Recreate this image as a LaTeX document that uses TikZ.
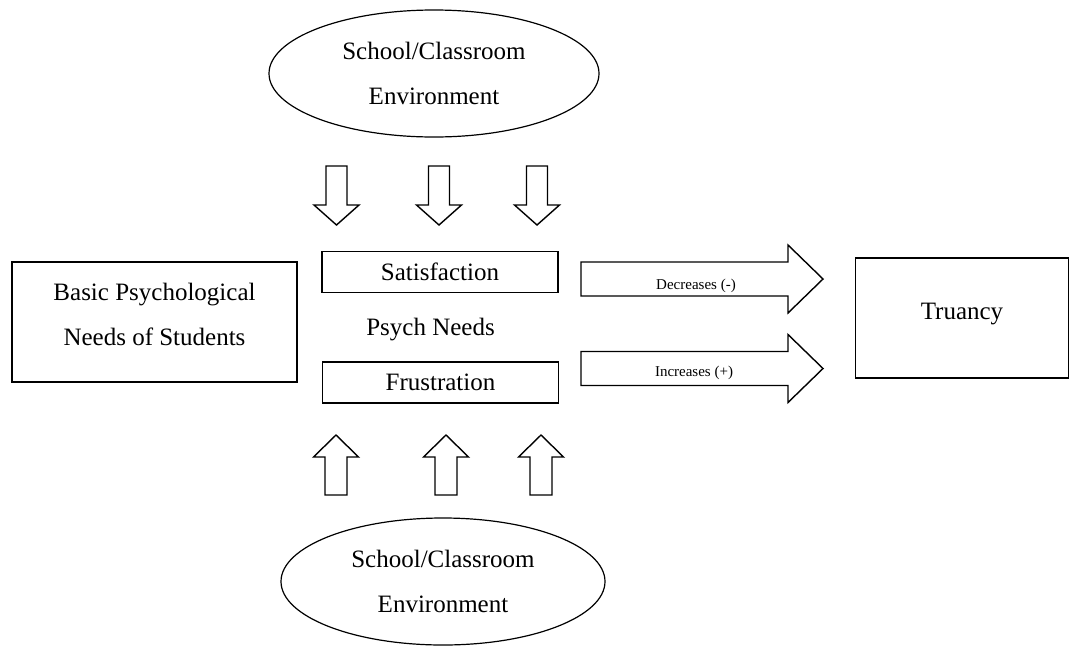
\documentclass[tikz,border=0pt]{standalone}
\usepackage{fontspec}
\setmainfont{Liberation Serif}
\usetikzlibrary{shapes.geometric}

\begin{document}
\begin{tikzpicture}[x=1pt,y=-1pt,line width=1.4pt,
                    big/.style={font=\fontsize{25}{45}\selectfont},
                    small/.style={font=\fontsize{15}{18}\selectfont},
                    arrdown/.pic={\draw (-10.5,0) -- (10.5,0) -- (10.5,39) -- (22.5,39)
                                   -- (0,59) -- (-22.5,39) -- (-10.5,39) -- cycle;},
                    arrup/.pic={\draw (0,0) -- (22.5,22) -- (11,22) -- (11,60)
                                 -- (-11,60) -- (-11,22) -- (-22.5,22) -- cycle;},
                    arrright/.pic={\draw (0,-17) -- (207,-17) -- (207,-34) -- (242,0)
                                    -- (207,34) -- (207,17) -- (0,17) -- cycle;}]
  \tikzstyle{env}=[draw,ellipse,big,align=center,line width=1.2pt,
                   minimum width=330pt,minimum height=127pt,inner sep=0pt]
  \tikzstyle{box}=[draw,big,align=center]
  \tikzstyle{need}=[box,minimum width=236pt,minimum height=41pt,inner sep=0pt]

  \useasboundingbox (0,0) rectangle (1075,646);

	\node[env]	(envtop)	at (434,73.5)	{School/Classroom\\Environment};
	\node[env,minimum width=324pt]	(envbot)	at (443,581.5)	{School/Classroom\\Environment};

	\node[box,minimum width=285pt,minimum height=120pt,text depth=16pt]
		(basic)	at (154.5,322)	{Basic Psychological\\Needs of Students};
	\node[box,minimum width=213pt,minimum height=120pt,text depth=14pt]
		(truancy)	at (962,318)	{Truancy};

	\node[need]	(sat)	at (440,272)	{Satisfaction};
	\node[big]	(psych)	at (430.5,329.5)	{Psych Needs};
	\node[need]	(frus)	at (440.5,382.5)	{Frustration};

	\foreach \x in {336.5,439,537}
		\pic at (\x,166) {arrdown};
	\foreach \x in {336,446,541}
		\pic at (\x,435) {arrup};

	\pic at (581,279) {arrright};
	\pic at (581,368.5) {arrright};
	\node[small]	(dec)	at (696,286)	{Decreases (-)};
	\node[small]	(inc)	at (694,373)	{Increases (+)};

\end{tikzpicture}
\end{document}
